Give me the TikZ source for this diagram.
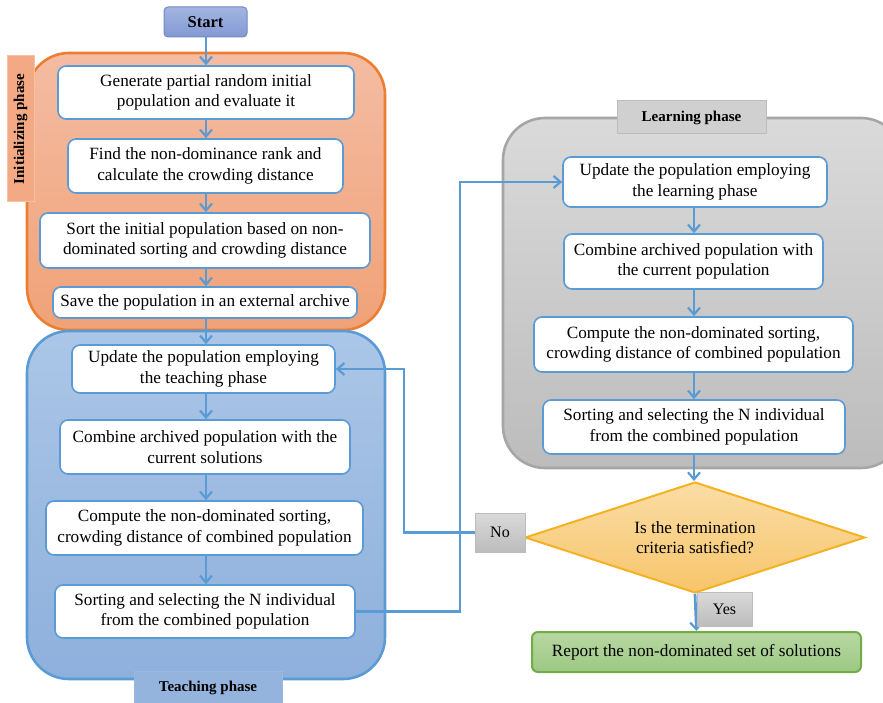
\documentclass[tikz,border=0pt]{standalone}
\usepackage{fontspec}
\setmainfont{Liberation Serif}
\usetikzlibrary{arrows.meta,shapes.geometric}
\definecolor{abl}{HTML}{5B9BD5}
\definecolor{orb}{HTML}{ED7D31}
\definecolor{ort}{HTML}{F4BCA3}
\definecolor{orf}{HTML}{F0A277}
\definecolor{blt}{HTML}{ABC6E7}
\definecolor{blf}{HTML}{8EB0DC}
\definecolor{grt}{HTML}{DADADA}
\definecolor{grf}{HTML}{BCBCBC}
\definecolor{grb}{HTML}{A6A6A6}
\definecolor{stt}{HTML}{A3B5E2}
\definecolor{stf}{HTML}{8299D2}
\definecolor{stb}{HTML}{7489C2}
\definecolor{dmt}{HTML}{FADDA6}
\definecolor{dmf}{HTML}{F7C56A}
\definecolor{dmb}{HTML}{F4B121}
\definecolor{gnt}{HTML}{B8D8A3}
\definecolor{gnf}{HTML}{9CC883}
\definecolor{gnb}{HTML}{70AD47}
\definecolor{itf}{HTML}{F3AA84}
\definecolor{itb}{HTML}{F6C0A2}
\definecolor{ltf}{HTML}{D0D0D0}
\tikzset{
  x=1pt,y=-1pt,
  box/.style={draw=abl,line width=1.6pt,fill=white,rounded corners=8pt,align=center,
    font=\fontsize{17.2}{20.5}\selectfont,inner sep=2pt},
  cont/.style={rounded corners=42pt,line width=2.6pt,inner sep=0pt},
  tab/.style={font=\fontsize{15}{17}\selectfont\bfseries,inner sep=0pt,line width=1pt},
  lab/.style={draw=grf,fill=grt,top color=grt,bottom color=grf,line width=1pt,
    font=\fontsize{16}{18}\selectfont,inner sep=0pt},
  conn/.style={draw=abl,line width=2.8pt,-{Straight Barb[length=7pt,width=12pt,line width=2.2pt]}}
}
\begin{document}
\begin{tikzpicture}
\useasboundingbox (0,0) rectangle (883,703);
% containers
\node[cont,draw=orb,top color=ort,bottom color=orf,minimum width=358pt,minimum height=277pt] (init) at (206,191.5) {};
\node[tab,rotate=90,draw=itb,fill=itf,minimum width=146pt,minimum height=27pt] (inittab) at (20.5,129) {Initializing phase};
\node[cont,draw=abl,top color=blt,bottom color=blf,minimum width=358pt,minimum height=348pt] (teach) at (206,505) {};
\node[tab,draw=blf!90!white,fill=blf!95!white,minimum width=148pt,minimum height=34pt] (teachtab) at (208,688) {Teaching phase};
\node[cont,draw=grb,top color=grt,bottom color=grf,minimum width=400pt,minimum height=350pt] (learn) at (703,293) {};
\node[tab,draw=grf,fill=ltf,minimum width=149pt,minimum height=33pt] (learntab) at (691.5,117.5) {Learning phase};
% start
\node[draw=stb,top color=stt,bottom color=stf,rounded corners=4pt,line width=1pt,minimum width=83pt,minimum height=30pt,font=\fontsize{16.5}{18}\selectfont\bfseries] (start) at (205.5,22) {Start};
% initializing boxes
\node[box,minimum width=296pt,minimum height=53pt] (gen) at (206,92.5) {Generate partial random initial\\population and evaluate it};
\node[box,minimum width=275pt,minimum height=54pt] (find) at (205.5,166) {Find the non-dominance rank and\\calculate the crowding distance};
\node[box,minimum width=330pt,minimum height=55pt] (sort) at (205,240.5) {Sort the initial population based on non-\\dominated sorting and crowding distance};
\node[box,minimum width=304pt,minimum height=31pt] (save) at (205,302.5) {Save the population in an external archive};
% teaching boxes
\node[box,minimum width=263pt,minimum height=48pt] (updt) at (203.5,369) {Update the population employing\\the teaching phase};
\node[box,minimum width=290pt,minimum height=54pt] (combt) at (205,447) {Combine archived population with the\\current solutions};
\node[box,minimum width=317pt,minimum height=54pt] (compt) at (204.5,528) {Compute the non-dominated sorting,\\crowding distance of combined population};
\node[box,minimum width=300pt,minimum height=53pt] (sortt) at (205,611.5) {Sorting and selecting the N individual\\from the combined population};
% learning boxes
\node[box,minimum width=264pt,minimum height=50pt] (updl) at (695,182) {Update the population employing\\the learning phase};
\node[box,minimum width=259pt,minimum height=55pt] (combl) at (693.5,261.5) {Combine archived population with\\the current population};
\node[box,minimum width=319pt,minimum height=55pt] (compl) at (693.5,344.5) {Compute the non-dominated sorting,\\crowding distance of combined population};
\node[box,minimum width=302pt,minimum height=54pt] (sortl) at (694,427) {Sorting and selecting the N individual\\from the combined population};
% decision
\node[diamond,draw=dmb,line width=2pt,top color=dmt,bottom color=dmf,inner sep=0pt,minimum width=340pt,minimum height=111pt,aspect=3.06,align=center,font=\fontsize{17.2}{20.5}\selectfont] (dec) at (695,537.5) {Is the termination\\criteria satisfied?};
\node[draw=gnb,line width=2pt,top color=gnt,bottom color=gnf,rounded corners=6pt,minimum width=329pt,minimum height=40pt,font=\fontsize{17.2}{19}\selectfont] (rep) at (696.5,652) {Report the non-dominated set of solutions};
% connectors
\coordinate (ax) at (206,0);
\coordinate (bx) at (694,0);
\draw[conn] (start.south -| ax) -- (gen.north -| ax);
\draw[conn] (gen.south -| ax) -- (find.north -| ax);
\draw[conn] (find.south -| ax) -- (sort.north -| ax);
\draw[conn] (sort.south -| ax) -- (save.north -| ax);
\draw[conn] (save.south -| ax) -- (updt.north -| ax);
\draw[conn] (updt.south -| ax) -- (combt.north -| ax);
\draw[conn] (combt.south -| ax) -- (compt.north -| ax);
\draw[conn] (compt.south -| ax) -- (sortt.north -| ax);
\draw[conn] (updl.south -| bx) -- (combl.north -| bx);
\draw[conn] (combl.south -| bx) -- (compl.north -| bx);
\draw[conn] (compl.south -| bx) -- (sortl.north -| bx);
\draw[conn] (sortl.south -| bx) -- (dec.north -| bx);
\coordinate (c1) at (460,611.5);
\coordinate (c2) at (460,182);
\draw[conn] (sortt.east) -- (c1) -- (c2) -- (updl.west);
\node[lab,minimum width=50pt,minimum height=39pt] (no) at (500,532.5) {No};
\coordinate (c3) at (404,532.5);
\coordinate (c4) at (404,369);
\draw[conn] (no.west) -- (c3) -- (c4) -- (updt.east);
\draw[conn] (dec.south) -- (rep.north);
\node[lab,minimum width=55pt,minimum height=34pt] (yes) at (724.5,609) {Yes};
\end{tikzpicture}
\end{document}
